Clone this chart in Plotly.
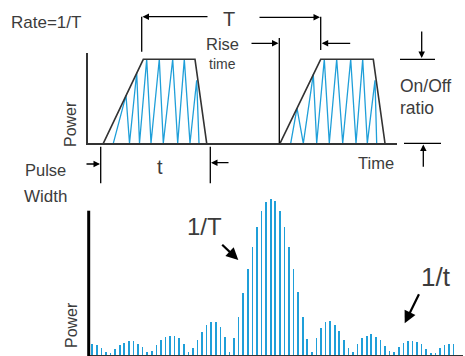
import plotly.graph_objects as go

# top diagram: pulse envelopes (time in px-like units, power 0..1)
env1_t = [103.3, 143.3, 195.0, 206.7]
env2_t = [280.0, 320.7, 373.3, 385.0]
env_p = [0, 1, 1, 0]

# carrier zig-zag inside each pulse (vertices)
zig1_t = [113.3, 126.0, 129.5, 136.7, 139.5, 146.7, 151.0, 159.3, 163.3, 172.7, 177.7, 184.3, 190.0, 196.7, 199.0]
zig1_p = [0, 0.57, 0, 0.84, 0, 1, 0, 1, 0, 1, 0, 1, 0, 0.75, 0]
zig2_t = [290.7, 297.0, 303.3, 313.3, 316.7, 324.3, 329.3, 336.7, 342.7, 350.7, 356.0, 362.7, 367.3, 375.0, 376.7]
zig2_p = [0, 0.42, 0, 0.82, 0, 1, 0, 1, 0, 1, 0, 1, 0, 0.75, 0]

# bottom: spectral line powers (arbitrary units)
spec_p = [11, 9.7, 7, 3, 1.7, 5.7, 9.7, 12.3, 14, 14,
          11, 8, 3, 4, 9.7, 15, 17.7, 19, 19, 16.7,
          11, 3.3, 7, 15, 23.3, 30, 33, 33, 28.3, 17.7,
          3.3, 16.7, 38.3, 61.7, 86, 108.3, 128.3, 144, 153.3, 156,
          154, 144, 128.3, 108.3, 86, 62.7, 38, 16, 2.7, 17.3,
          27.3, 32.7, 34, 30, 24, 15, 6.7, 2.7, 10.7, 16.7,
          19, 20.7, 18.3, 15, 9, 4, 2.7, 8.3, 11.7, 13.7,
          14.3, 13, 10.7, 6, 1.7, 2.3, 7, 9.7, 11, 11]
spec_i = list(range(len(spec_p)))

W, H = 465, 356
DARK = "#333333"
BLUE = "#1f9fd9"
TXT = "#3c3c3c"
FONT = "Liberation Sans, Arial, sans-serif"

fig = go.Figure()

for zt, zp, et in [(zig1_t, zig1_p, env1_t), (zig2_t, zig2_p, env2_t)]:
    fig.add_trace(go.Scatter(x=zt, y=zp, mode="lines", line=dict(color=BLUE, width=1.3),
                             xaxis="x", yaxis="y", hoverinfo="skip", showlegend=False))
    fig.add_trace(go.Scatter(x=et, y=env_p, mode="lines", line=dict(color=DARK, width=1.6),
                             xaxis="x", yaxis="y", hoverinfo="skip", showlegend=False,
                             cliponaxis=False))

fig.add_trace(go.Bar(x=spec_i, y=spec_p, width=0.36, marker=dict(color=BLUE, line=dict(width=0)),
                     xaxis="x2", yaxis="y2", showlegend=False))

# axis geometry (pixel based)
x_left, x_right, y_base, y_top, ax_top = 88.0, 396.7, 143.3, 59.3, 53.0
dom1 = [1 - y_base / H, 1 - ax_top / H]
r1 = [0, (y_base - ax_top) / (y_base - y_top)]

sx0, sx1, sy_base, sy_top = 88.7, 463.0, 355.0, 195.0
sp0, sdx = 92.3, 4.574
dom2 = [1 - sy_base / H, 1 - sy_top / H]
r2 = [0, sy_base - sy_top]

noax = dict(showgrid=False, zeroline=False, showticklabels=False, ticks="")
fig.update_layout(
    width=W, height=H, margin=dict(l=0, r=0, t=0, b=0),
    paper_bgcolor="white", plot_bgcolor="rgba(0,0,0,0)",
    font=dict(family=FONT, color=TXT, size=14),
    bargap=0,
    xaxis=dict(domain=[x_left / W, x_right / W], range=[x_left, x_right], showline=True,
               linecolor=DARK, linewidth=1.6, anchor="y", **noax),
    yaxis=dict(domain=dom1, range=r1, showline=True, linecolor=DARK, linewidth=1.6,
               anchor="x", **noax),
    xaxis2=dict(domain=[sx0 / W, sx1 / W], range=[(sx0 - sp0) / sdx, (sx1 - sp0) / sdx],
                showline=True, linecolor=DARK, linewidth=1.2, anchor="y2", **noax),
    yaxis2=dict(domain=dom2, range=r2, showline=False, anchor="x2", **noax),
)


def px(x, y):
    return x / W, 1 - y / H


def label(text, x, y, size=14, angle=0, xanchor="center"):
    xp, yp = px(x, y)
    fig.add_annotation(x=xp, y=yp, xref="paper", yref="paper", text=text, showarrow=False,
                       font=dict(size=size, color=TXT, family=FONT), textangle=angle,
                       xanchor=xanchor, yanchor="middle")


def arrow(x0, y0, x1, y1, width=1.3, size=1.0):
    # arrow from tail (x0,y0) to head (x1,y1), pixel coordinates
    xp, yp = px(x1, y1)
    fig.add_annotation(x=xp, y=yp, xref="paper", yref="paper", ax=x0 - x1, ay=y0 - y1,
                       axref="pixel", ayref="pixel", text="", showarrow=True, arrowhead=2,
                       arrowsize=size, arrowwidth=width, arrowcolor="black")


def seg(x0, y0, x1, y1, width=1.3, color="black"):
    a, b = px(x0, y0)
    c, d = px(x1, y1)
    fig.add_shape(type="line", xref="paper", yref="paper", x0=a, y0=b, x1=c, y1=d,
                  line=dict(color=color, width=width))


# T period markers
seg(141.7, 16.7, 141.7, 51.7)
seg(320.7, 16.7, 320.7, 50.0)
arrow(209, 16.7, 142.5, 16.7)
arrow(258, 17.3, 320, 17.3)
label("T", 229, 19, size=20)
# rise time
seg(279.3, 38.0, 279.3, 143.3)
arrow(250, 43.3, 278.5, 43.3)
arrow(351.7, 43.3, 321.7, 43.3)
label("Rise", 222, 44, size=16.5)
label("time", 222, 64, size=14)
# on/off ratio
seg(400, 59.3, 435, 59.3)
arrow(421.7, 30, 421.7, 58)
seg(404, 143.3, 441, 143.3)
arrow(423.3, 168.3, 423.3, 144.5)
label("On/Off", 398, 86, size=17.5, xanchor="left")
label("ratio", 398, 108, size=17.5, xanchor="left")
label("Time", 376, 163, size=16.5)
# pulse width
seg(100.7, 146.7, 100.7, 183.3)
seg(210.3, 146.7, 210.3, 183.3)
arrow(85, 164, 100, 164)
arrow(230, 162.7, 211, 162.7)
label("t", 160, 167, size=20)
label("Pulse", 45, 170, size=16.5)
label("Width", 45, 196, size=17)
label("Rate=1/T", 46, 22, size=17)
label("Power", 71, 124, size=16, angle=-90)
# spectrum
seg(88.7, 210.7, 88.7, 356, width=3)
label("Power", 71, 325, size=16, angle=-90)
label("1/T", 204, 226, size=24)
arrow(220.7, 243.3, 238.3, 260, width=2.2, size=1.1)
label("1/t", 436, 277, size=26)
arrow(419.7, 292.7, 404.7, 323.3, width=2.2, size=1.1)

fig.write_html("out.html", post_script="document.body.style.margin='0px';",
               config={"displayModeBar": False, "staticPlot": True})
